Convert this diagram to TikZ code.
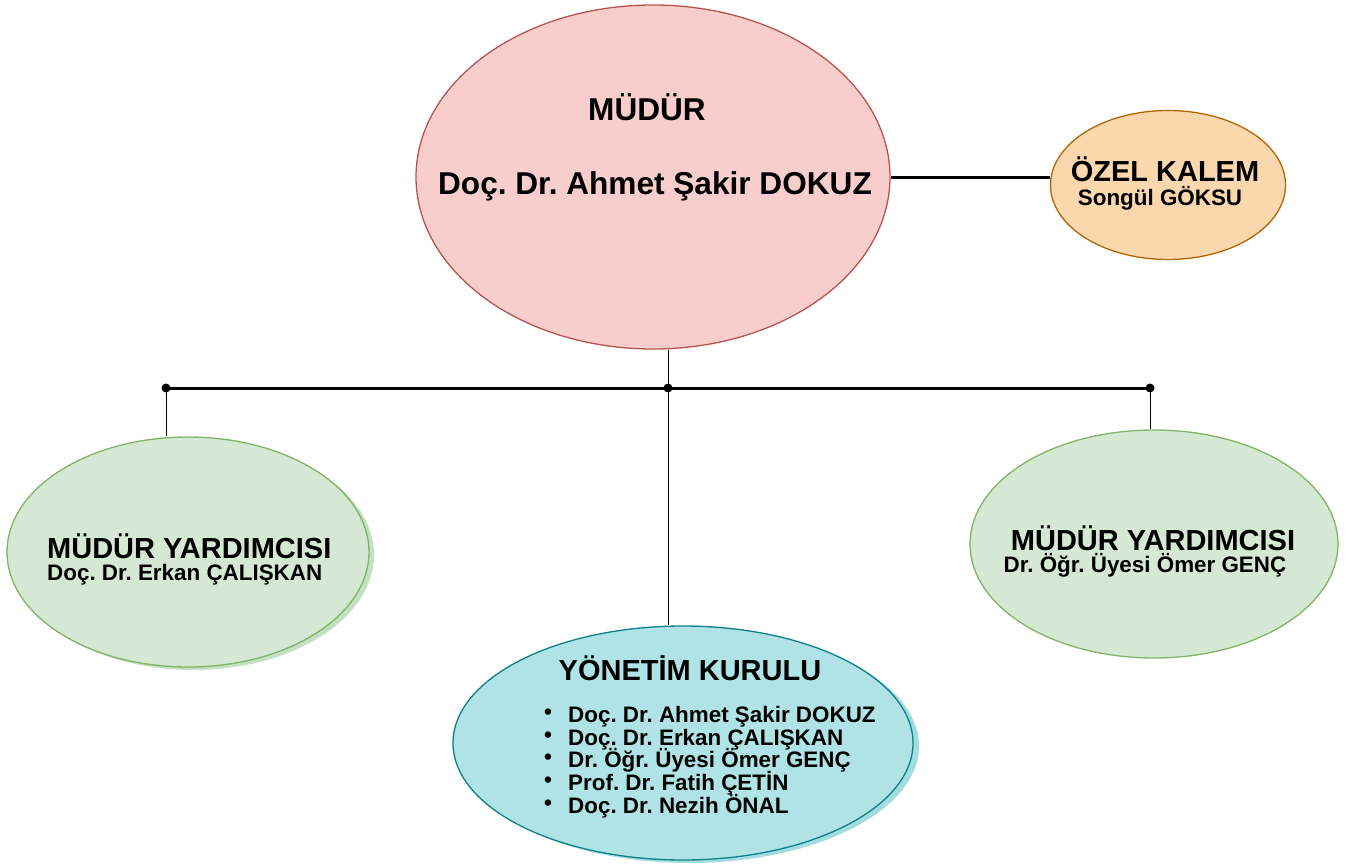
\documentclass[tikz,border=0pt]{standalone}
\usepackage{fontspec}
\setmainfont{Liberation Sans}
\usetikzlibrary{shapes.geometric}
\definecolor{mainfill}{HTML}{F8CECC}
\definecolor{mainline}{HTML}{B85450}
\definecolor{ozfill}{HTML}{FAD7AC}
\definecolor{ozline}{HTML}{B46504}
\definecolor{grfill}{HTML}{D5E8D4}
\definecolor{grline}{HTML}{82B366}
\definecolor{grshadow}{HTML}{C4DFC3}
\definecolor{tlfill}{HTML}{B0E3E6}
\definecolor{tlline}{HTML}{0E8088}
\definecolor{tlshadow}{HTML}{A3DCDF}
\tikzset{
  oval/.style={ellipse, inner sep=0pt, line width=1.3pt},
  bigtxt/.style={font=\bfseries\fontsize{31.6}{34}\selectfont, inner sep=0pt},
  headtxt/.style={font=\bfseries\fontsize{29}{31}\selectfont, inner sep=0pt},
  subtxt/.style={font=\bfseries\fontsize{22.4}{23}\selectfont, inner sep=0pt},
  thickline/.style={line width=3pt},
  thinline/.style={line width=0.9pt},
  junction/.style={circle, fill=black, inner sep=0pt, minimum size=9pt}
}
\begin{document}
\frenchspacing
\begin{tikzpicture}[x=1pt, y=-1pt]
\useasboundingbox (0,0) rectangle (1352,864);
% shadows
\fill[grshadow] (193,555) ellipse [x radius=181, y radius=115];
\fill[tlshadow] (689,746) ellipse [x radius=230, y radius=117];
% ellipses
\node[oval, draw=mainline, fill=mainfill, minimum width=474pt, minimum height=344pt] (mudur) at (653,177) {};
\node[oval, draw=ozline, fill=ozfill, minimum width=235pt, minimum height=149pt] (ozel) at (1168,185) {};
\node[oval, draw=grline, fill=grfill, minimum width=362pt, minimum height=230pt] (yrd1) at (188,552) {};
\node[oval, draw=grline, fill=grfill, minimum width=368pt, minimum height=228pt] (yrd2) at (1154,544) {};
\node[oval, draw=tlline, fill=tlfill, minimum width=460pt, minimum height=234pt] (kurul) at (683,743) {};
% junctions
\node[junction] (jl) at (166,388) {};
\node[junction] (jc) at (668,388) {};
\node[junction] (jr) at (1150,388) {};
% connectors
\draw[thickline] (mudur.east) -- (mudur.east -| ozel.west);
\draw[thickline] (jl.center) -- (jr.center);
\draw[thinline] (jc.center) -- (jc.center |- mudur.south);
\draw[thinline] (jc.center) -- (jc.center |- kurul.north);
\draw[thinline] (jl.center) -- (jl.center |- yrd1.north);
\draw[thinline] (jr.center) -- (jr.center |- yrd2.north);
% texts
\node[bigtxt, anchor=base] (t1) at (647,121) {MÜDÜR};
\node[bigtxt, anchor=base] (t2) at (655,194) {Doç. Dr. Ahmet Şakir DOKUZ};
\node[headtxt, anchor=base] (t3) at (1165,182) {ÖZEL KALEM};
\node[subtxt, anchor=base] (t4) at (1160,205) {Songül GÖKSU};
\node[headtxt, anchor=base west] (t5) at (47,558) {MÜDÜR YARDIMCISI};
\node[subtxt, anchor=base west] (t6) at (47,580) {Doç. Dr. Erkan ÇALIŞKAN};
\node[headtxt, anchor=base] (t7) at (1153,550) {MÜDÜR YARDIMCISI};
\node[subtxt, anchor=base] (t8) at (1145,572) {Dr. Öğr. Üyesi Ömer GENÇ};
\node[headtxt, anchor=base] (t9) at (690,680) {YÖNETİM KURULU};
\foreach \i/\y/\txt in {1/722/{Doç. Dr. Ahmet Şakir DOKUZ}, 2/745/{Doç. Dr. Erkan ÇALIŞKAN}, 3/767/{Dr. Öğr. Üyesi Ömer GENÇ}, 4/790/{Prof. Dr. Fatih ÇETİN}, 5/813/{Doç. Dr. Nezih ÖNAL}} {
  \node[subtxt, anchor=base] (bul\i) at (548,\y-3) {•};
  \node[subtxt, anchor=base west] (item\i) at (568,\y) {\txt};
}
\end{tikzpicture}
\end{document}
